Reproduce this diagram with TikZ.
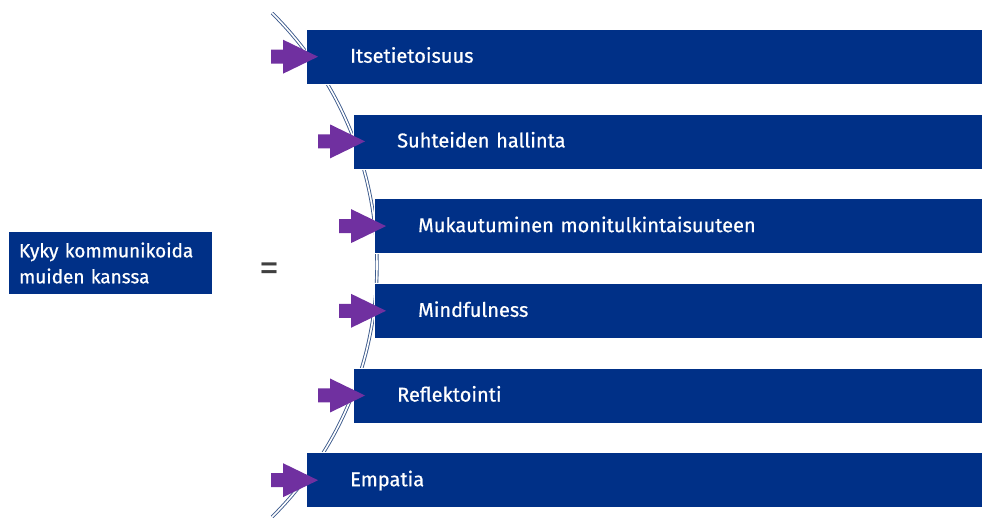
\documentclass[tikz,border=0pt]{standalone}
\usepackage{fontspec}
\setmainfont{Fira Sans}
\newfontfamily\labelfont{Fira Sans}[FakeBold=0.6]
\definecolor{barblue}{RGB}{0,48,135}
\definecolor{arrowpurple}{RGB}{112,48,160}
\definecolor{curveblue}{RGB}{60,90,140}
\definecolor{eqgray}{RGB}{64,64,64}
\begin{document}
\begin{tikzpicture}[x=1pt,y=1pt,
  bar/.style={fill=barblue, draw=white, line width=0.4pt, text=white, anchor=north west,
    minimum height=55pt, inner xsep=44pt, text depth=3.5pt, align=left,
    font=\labelfont\fontsize{20}{22}\selectfont},
  leftbox/.style={fill=barblue, text=white, minimum width=203pt, minimum height=62pt,
    inner xsep=10pt, align=left, text width=183pt, font=\labelfont\fontsize{19}{26}\selectfont},
  blockarrow/.style={fill=arrowpurple},
  bracecurve/.style={draw=curveblue, line width=0.9pt, double=white, double distance=1.6pt}
]
\useasboundingbox (0,0) rectangle (982,519);
% curve
\draw[bracecurve] (22,254) ++(45.2:355pt) arc[start angle=45.2, end angle=-45.2, radius=355pt];
% bars
\node[bar, minimum width=676pt, text width=632pt] (b1) at (306,490) {Itsetietoisuus};
\node[bar, minimum width=629pt, text width=585pt] (b2) at (353,405.3) {Suhteiden hallinta};
\node[bar, minimum width=608pt, text width=564pt] (b3) at (374,320.6) {Mukautuminen monitulkintaisuuteen};
\node[bar, minimum width=608pt, text width=564pt] (b4) at (374,235.9) {Mindfulness};
\node[bar, minimum width=629pt, text width=585pt] (b5) at (353,151.2) {Reflektointi};
\node[bar, minimum width=676pt, text width=632pt] (b6) at (306,66.5) {Empatia};
% arrows
\foreach \b in {b1,b2,b3,b4,b5,b6}{
  \fill[blockarrow, shift={(\b.west)}] (12,0) -- (-23,17) -- (-23,7) -- (-35,7) -- (-35,-7) -- (-23,-7) -- (-23,-17) -- cycle;
}
% left box
\node[leftbox] (k) at (110.5,256) {Kyky kommunikoida\\muiden kanssa};
\node[text=eqgray, font=\fontsize{40}{40}\selectfont] (eq) at (269,247) {=};
\end{tikzpicture}
\end{document}
